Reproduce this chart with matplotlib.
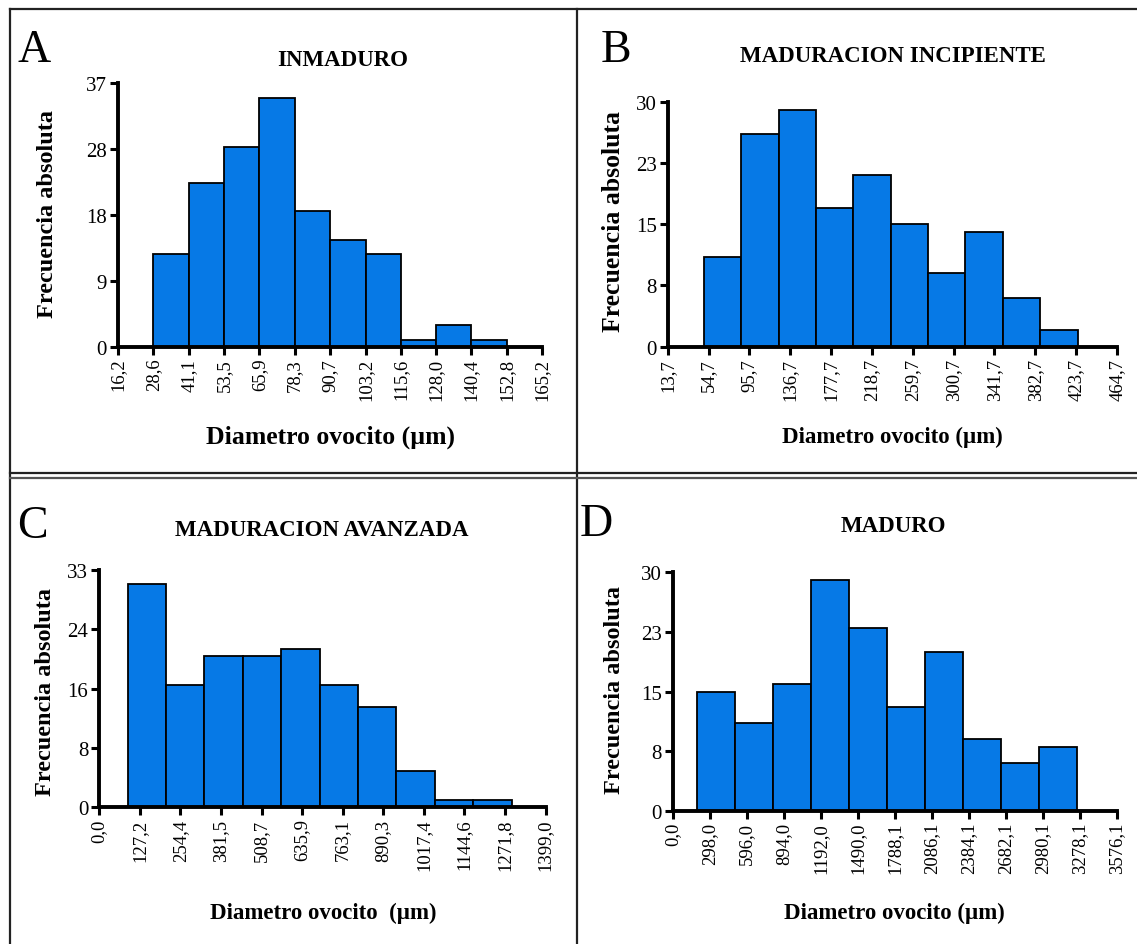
import matplotlib
matplotlib.use("Agg")
import matplotlib.pyplot as plt
from matplotlib.lines import Line2D

# ---------------- data ----------------
letters = ["A", "B", "C", "D"]
titles = ["INMADURO", "MADURACION INCIPIENTE", "MADURACION AVANZADA", "MADURO"]
xlabels = ["Diametro ovocito (\u00b5m)", "Diametro ovocito (\u00b5m)",
           "Diametro ovocito  (\u00b5m)", "Diametro ovocito (\u00b5m)"]
ylabel = "Frecuencia absoluta"

xticks_A = ["16,2", "28,6", "41,1", "53,5", "65,9", "78,3", "90,7", "103,2",
            "115,6", "128,0", "140,4", "152,8", "165,2"]
xticks_B = ["13,7", "54,7", "95,7", "136,7", "177,7", "218,7", "259,7", "300,7",
            "341,7", "382,7", "423,7", "464,7"]
xticks_C = ["0,0", "127,2", "254,4", "381,5", "508,7", "635,9", "763,1", "890,3",
            "1017,4", "1144,6", "1271,8", "1399,0"]
xticks_D = ["0,0", "298,0", "596,0", "894,0", "1192,0", "1490,0", "1788,1",
            "2086,1", "2384,1", "2682,1", "2980,1", "3278,1", "3576,1"]

edges_A = [28.6, 41.1, 53.5, 65.9, 78.3, 90.7, 103.2, 115.6, 128.0, 140.4, 152.8]
edges_B = [50.1, 87.6, 125.1, 162.6, 200.1, 237.6, 275.1, 312.6, 350.1, 387.6, 425.1]
edges_C = [89.0, 209.4, 329.8, 450.2, 570.6, 691.0, 811.4, 931.8, 1052.2, 1172.6, 1293.0]
edges_D = [193, 499, 805, 1111, 1417, 1723, 2029, 2335, 2641, 2947, 3253]

counts_A = [13, 23, 28, 35, 19, 15, 13, 1, 3, 1]
counts_B = [11, 26, 29, 17, 21, 15, 9, 14, 6, 2]
counts_C = [31, 17, 21, 21, 22, 17, 14, 5, 1, 1]
counts_D = [15, 11, 16, 29, 23, 13, 20, 9, 6, 8]

yticks_A = [0, 9.25, 18.5, 27.75, 37]
yticklabels_A = ["0", "9", "18", "28", "37"]
yticks_B = [0, 7.5, 15, 22.5, 30]
yticklabels_B = ["0", "8", "15", "23", "30"]
yticks_C = [0, 8.25, 16.5, 24.75, 33]
yticklabels_C = ["0", "8", "16", "24", "33"]
yticks_D = [0, 7.5, 15, 22.5, 30]
yticklabels_D = ["0", "8", "15", "23", "30"]

# ---------------- layout (pixels) ----------------
W, H = 1137, 945
BAR = "#0679E6"
SERIF = ["Liberation Serif", "DejaVu Serif"]
plt.rcParams["font.family"] = SERIF

fig = plt.figure(figsize=(W / 100, H / 100), dpi=100)


def fx(x):
    return x / W


def fy(y):
    return 1 - y / H


panels = [
    dict(box=(118, 542, 84.3, 347.7), xt=xticks_A, edges=edges_A, counts=counts_A,
         yt=yticks_A, ytl=yticklabels_A, title_xy=(343, 60), letter_xy=(18, 62),
         ylab_xy=(48, 214), xlab_xy=(330, 437), xlab_fs=18.5, ylab_fs=17.5),
    dict(box=(667.7, 1117, 102.7, 347.7), xt=xticks_B, edges=edges_B, counts=counts_B,
         yt=yticks_B, ytl=yticklabels_B, title_xy=(893, 57), letter_xy=(601, 62),
         ylab_xy=(614, 222), xlab_xy=(892, 437), xlab_fs=16.5, ylab_fs=18.5),
    dict(box=(99.3, 545.5, 571, 808.3), xt=xticks_C, edges=edges_C, counts=counts_C,
         yt=yticks_C, ytl=yticklabels_C, title_xy=(322, 531), letter_xy=(17, 538),
         ylab_xy=(46, 692), xlab_xy=(323, 913), xlab_fs=16.5, ylab_fs=17.5),
    dict(box=(672.7, 1116.7, 573.3, 811.7), xt=xticks_D, edges=edges_D, counts=counts_D,
         yt=yticks_D, ytl=yticklabels_D, title_xy=(893, 527), letter_xy=(580, 536),
         ylab_xy=(614, 690), xlab_xy=(894, 913), xlab_fs=16.5, ylab_fs=17.5),
]

for i, p in enumerate(panels):
    l, r, t, b = p["box"]
    ax = fig.add_axes([fx(l), fy(b), (r - l) / W, (b - t) / H])
    tickvals = [float(s.replace(",", ".")) for s in p["xt"]]
    edges = p["edges"]
    lefts = edges[:-1]
    widths = [edges[k + 1] - edges[k] for k in range(len(edges) - 1)]
    ax.bar(lefts, p["counts"], width=widths, align="edge", color=BAR,
           edgecolor="black", linewidth=1.3, clip_on=False, zorder=2)
    ax.set_xlim(tickvals[0], tickvals[-1])
    ax.set_ylim(0, p["yt"][-1])
    ax.set_xticks(tickvals)
    ax.set_xticklabels(p["xt"], rotation=90, fontsize=13.5)
    ax.set_yticks(p["yt"])
    ax.set_yticklabels(p["ytl"], fontsize=15)
    for s in ["top", "right"]:
        ax.spines[s].set_visible(False)
    for s in ["left", "bottom"]:
        ax.spines[s].set_linewidth(2.8)
        ax.spines[s].set_zorder(3)
        ax.spines[s].set_capstyle("projecting")
    ax.tick_params(axis="both", direction="out", length=6, width=2.2, pad=2,
                   colors="black")
    ax.patch.set_alpha(0)

    fig.text(fx(p["title_xy"][0]), fy(p["title_xy"][1]), titles[i],
             ha="center", va="center", fontsize=16.5, fontweight="bold")
    fig.text(fx(p["letter_xy"][0]), fy(p["letter_xy"][1]), letters[i],
             ha="left", va="baseline", fontsize=33)
    fig.text(fx(p["ylab_xy"][0]), fy(p["ylab_xy"][1]), ylabel, rotation=90,
             ha="center", va="center", fontsize=p["ylab_fs"], fontweight="bold")
    fig.text(fx(p["xlab_xy"][0]), fy(p["xlab_xy"][1]), xlabels[i],
             ha="center", va="center", fontsize=p["xlab_fs"], fontweight="bold")

# ---------------- panel frames ----------------
def hline(y, x0, x1, lw=1.6, c="#222222"):
    fig.add_artist(Line2D([fx(x0), fx(x1)], [fy(y), fy(y)], color=c, lw=lw,
                          transform=fig.transFigure))


def vline(x, y0, y1, lw=1.6, c="#222222"):
    fig.add_artist(Line2D([fx(x), fx(x)], [fy(y0), fy(y1)], color=c, lw=lw,
                          transform=fig.transFigure))


hline(10, 10, W)
vline(10, 10, H)
vline(577, 10, H)
hline(474, 10, W)
hline(478.5, 10, W, c="#555555")

fig.savefig("out.png", dpi=100)
